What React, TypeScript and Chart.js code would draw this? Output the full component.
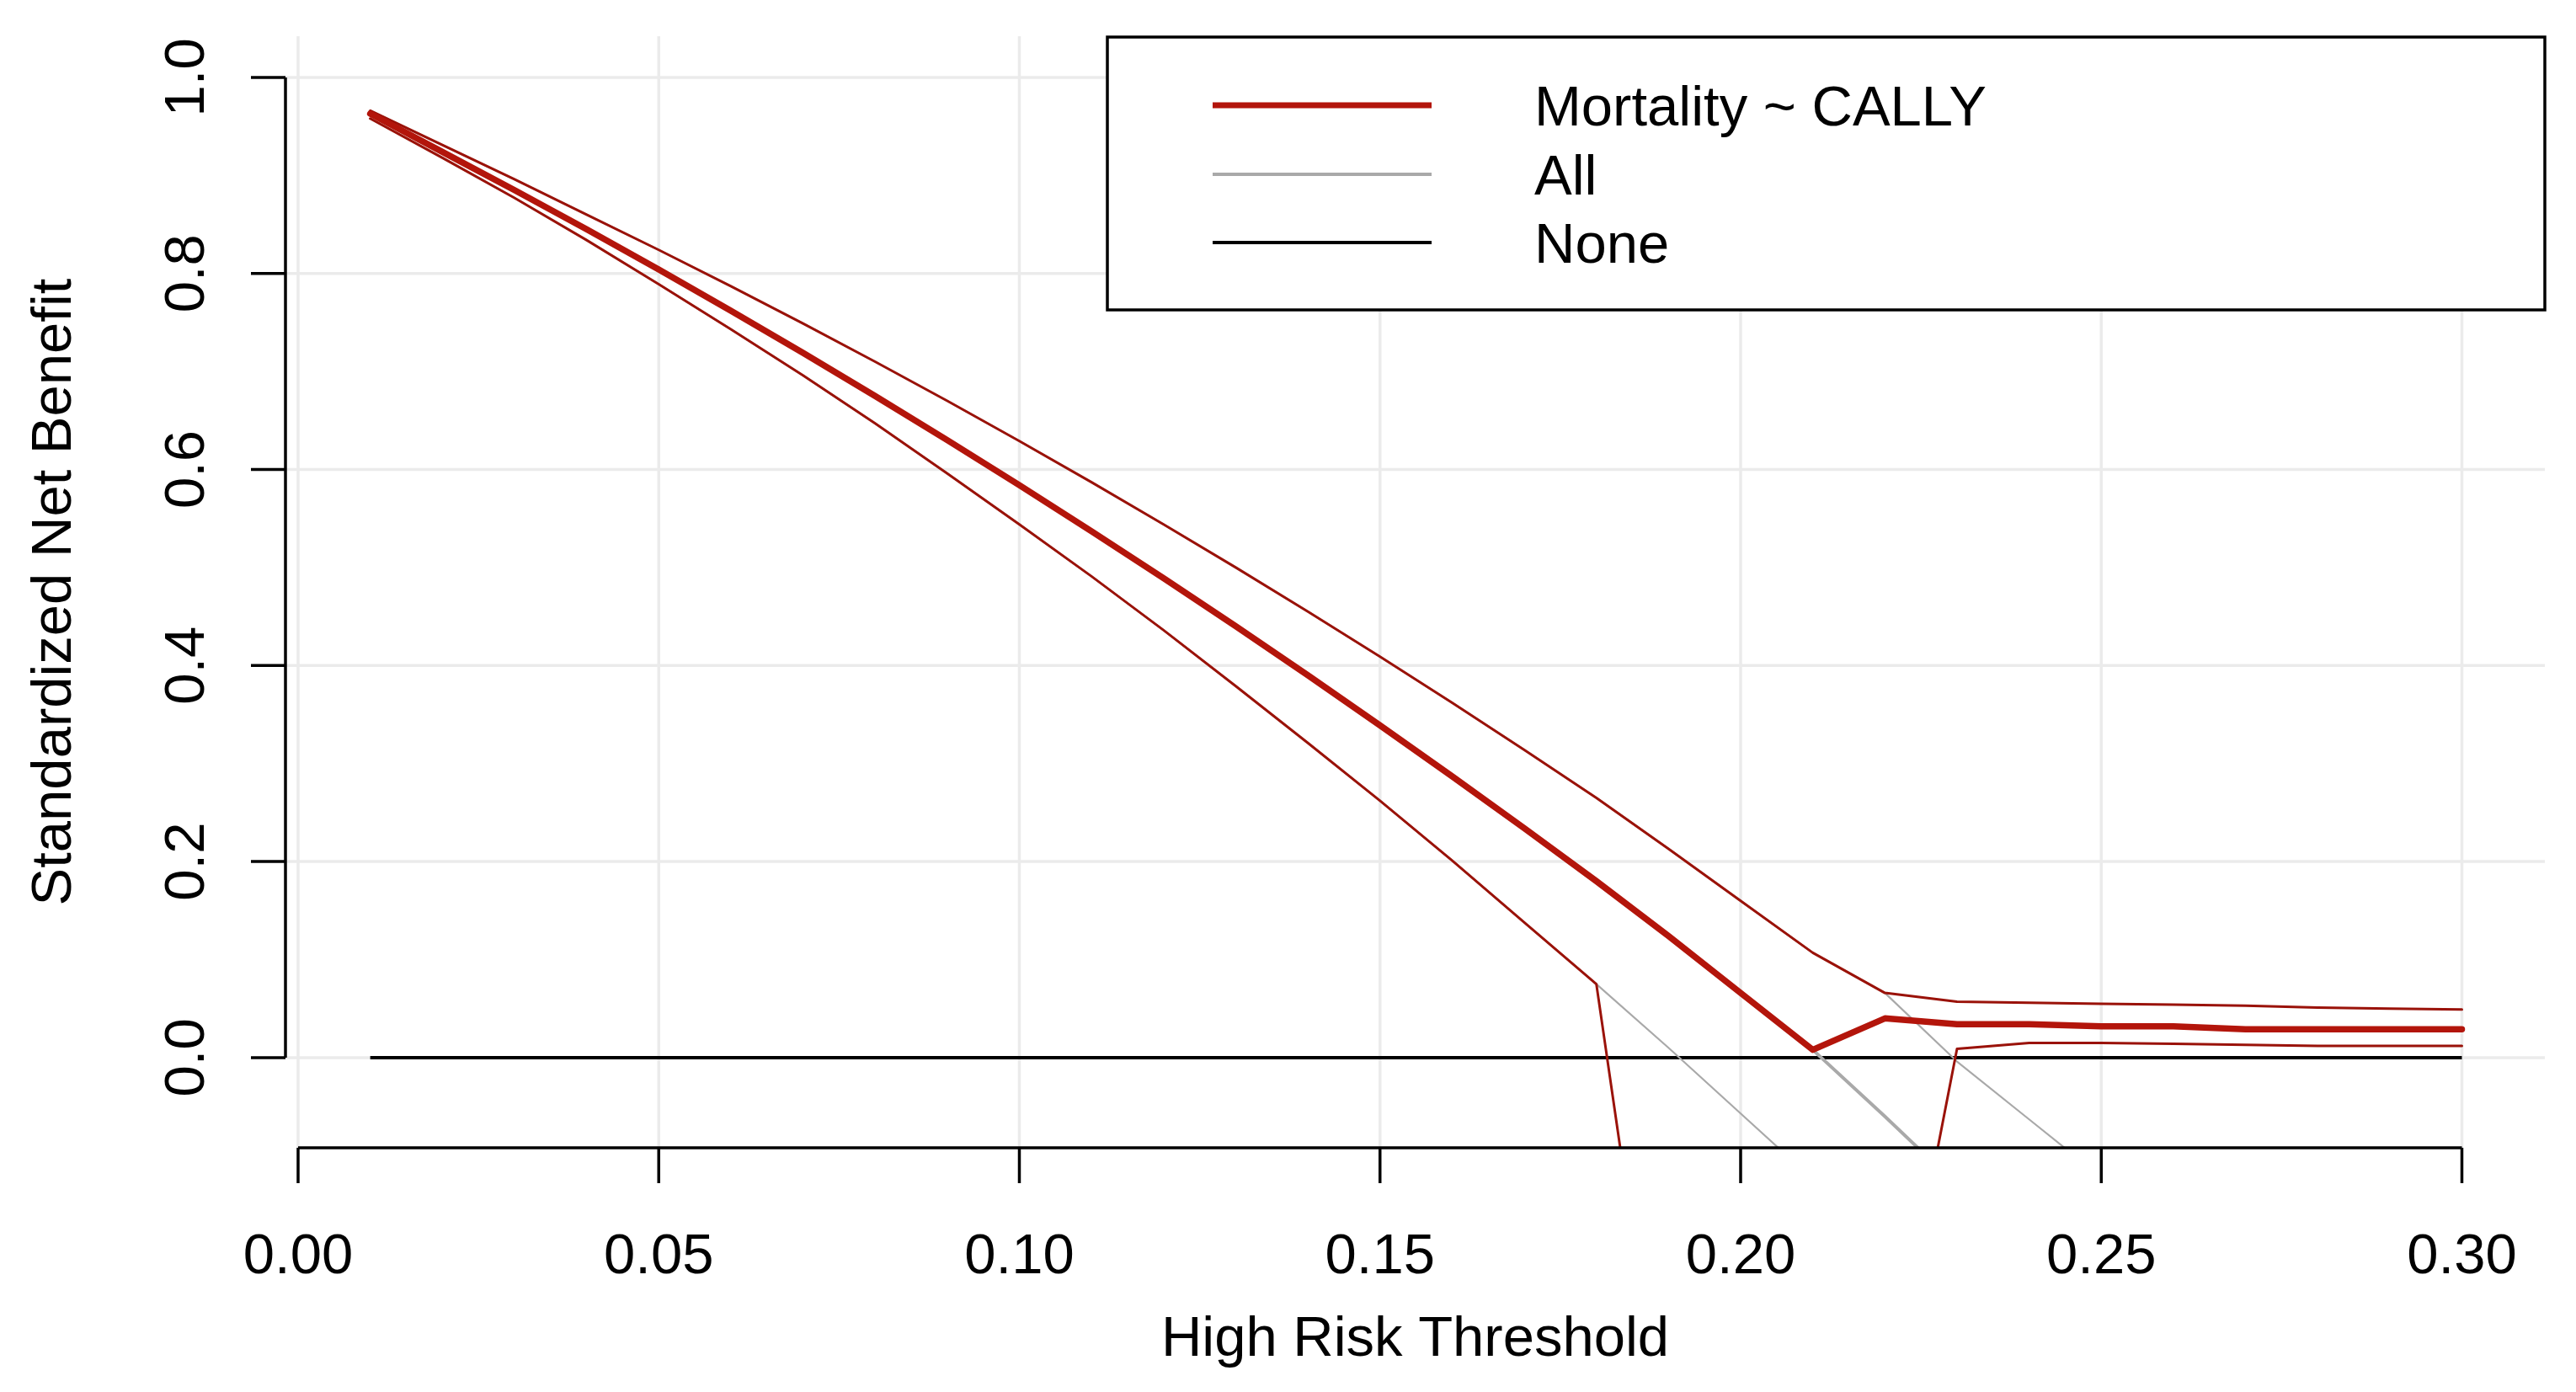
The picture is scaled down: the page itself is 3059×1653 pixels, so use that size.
import React, { useEffect, useRef } from "react";
import { Chart, registerables } from "chart.js";

Chart.register(...registerables);

const thresholds = [
  0.01, 0.02, 0.03, 0.04, 0.05, 0.06, 0.07, 0.08, 0.09, 0.1,
  0.11, 0.12, 0.13, 0.14, 0.15, 0.16, 0.17, 0.18, 0.19, 0.2,
  0.21, 0.22, 0.23, 0.24, 0.25, 0.26, 0.27, 0.28, 0.29, 0.3,
];

const modelNB = [
  0.963, 0.924, 0.885, 0.845, 0.804, 0.762, 0.719, 0.675, 0.63, 0.584,
  0.537, 0.489, 0.44, 0.39, 0.339, 0.287, 0.234, 0.18, 0.124, 0.066,
  0.008, 0.04, 0.034, 0.034, 0.032, 0.032, 0.029, 0.029, 0.029, 0.029,
];

const modelUpper = [
  0.966, 0.931, 0.896, 0.86, 0.824, 0.787, 0.749, 0.71, 0.67, 0.629,
  0.587, 0.544, 0.5, 0.455, 0.409, 0.362, 0.314, 0.265, 0.213, 0.16,
  0.107, 0.066, 0.057, 0.056, 0.055, 0.054, 0.053, 0.051, 0.05, 0.049,
];

const modelLower = [
  0.958, 0.918, 0.877, 0.834, 0.789, 0.743, 0.696, 0.647, 0.596, 0.544,
  0.491, 0.436, 0.379, 0.321, 0.262, 0.201, 0.138, 0.075, -0.43, -0.45,
  -0.43, -0.37, 0.009, 0.015, 0.015, 0.014, 0.013, 0.012, 0.012, 0.012,
];

const allNB = [
  0.963, 0.924, 0.885, 0.845, 0.804, 0.762, 0.719, 0.675, 0.63, 0.584,
  0.537, 0.489, 0.44, 0.39, 0.339, 0.287, 0.234, 0.18, 0.124, 0.066,
  0.008, -0.06, -0.13, null, null, null, null, null, null, null,
];

const allUpper = [
  0.966, 0.931, 0.896, 0.86, 0.824, 0.787, 0.749, 0.71, 0.67, 0.629,
  0.587, 0.544, 0.5, 0.455, 0.409, 0.362, 0.314, 0.265, 0.213, 0.16,
  0.107, 0.066, -0.004, -0.063, -0.122, null, null, null, null, null,
];

const allLower = [
  0.958, 0.918, 0.877, 0.834, 0.789, 0.743, 0.696, 0.647, 0.596, 0.544,
  0.491, 0.436, 0.379, 0.321, 0.262, 0.201, 0.138, 0.075, 0.01, -0.057,
  -0.124, null, null, null, null, null, null, null, null, null,
];

const noneNB = [
  0, 0, 0, 0, 0, 0, 0, 0, 0, 0,
  0, 0, 0, 0, 0, 0, 0, 0, 0, 0,
  0, 0, 0, 0, 0, 0, 0, 0, 0, 0,
];

const xTicks = [0, 0.05, 0.1, 0.15, 0.2, 0.25, 0.3];
const xTickLabels = ["0.00", "0.05", "0.10", "0.15", "0.20", "0.25", "0.30"];
const yTicks = [0, 0.2, 0.4, 0.6, 0.8, 1.0];
const yTickLabels = ["0.0", "0.2", "0.4", "0.6", "0.8", "1.0"];

const legendLabels = ["Mortality ~ CALLY", "All", "None"];
const xTitle = "High Risk Threshold";
const yTitle = "Standardized Net Benefit";

const RED = "#b3150b";
const RED_CI = "#9a1209";
const GRAY = "#a9a9a9";
const FONT = '67px "Liberation Sans", Arial, Helvetica, sans-serif';

function pts(values: (number | null)[]) {
  return thresholds.map((t, i) => ({ x: t, y: values[i] }));
}

const rStylePlugin = {
  id: "rStyle",
  beforeDatasetsDraw(chart: any) {
    const { ctx, chartArea, scales } = chart;
    const xs = scales.x;
    const ys = scales.y;
    ctx.save();
    ctx.strokeStyle = "#ebebeb";
    ctx.lineWidth = 3.5;
    xTicks.forEach((t) => {
      const px = xs.getPixelForValue(t);
      ctx.beginPath();
      ctx.moveTo(px, chartArea.top);
      ctx.lineTo(px, chartArea.bottom);
      ctx.stroke();
    });
    yTicks.forEach((v) => {
      const py = ys.getPixelForValue(v);
      ctx.beginPath();
      ctx.moveTo(chartArea.left, py);
      ctx.lineTo(chartArea.right, py);
      ctx.stroke();
    });
    ctx.restore();
  },
  afterDatasetsDraw(chart: any) {
    const { ctx, chartArea, scales } = chart;
    const xs = scales.x;
    const ys = scales.y;
    ctx.save();
    ctx.strokeStyle = "#000";
    ctx.fillStyle = "#000";
    ctx.lineWidth = 3.5;
    ctx.lineCap = "butt";
    ctx.font = FONT;

    // x axis
    const xb = chartArea.bottom;
    ctx.beginPath();
    ctx.moveTo(xs.getPixelForValue(xTicks[0]), xb);
    ctx.lineTo(xs.getPixelForValue(xTicks[xTicks.length - 1]), xb);
    ctx.stroke();
    ctx.textAlign = "center";
    ctx.textBaseline = "alphabetic";
    xTicks.forEach((t, i) => {
      const px = xs.getPixelForValue(t);
      ctx.beginPath();
      ctx.moveTo(px, xb);
      ctx.lineTo(px, xb + 42);
      ctx.stroke();
      ctx.fillText(xTickLabels[i], px, xb + 149);
    });
    ctx.fillText(xTitle, (chartArea.left + chartArea.right) / 2, xb + 247);

    // y axis
    const yl = chartArea.left;
    ctx.beginPath();
    ctx.moveTo(yl, ys.getPixelForValue(yTicks[0]));
    ctx.lineTo(yl, ys.getPixelForValue(yTicks[yTicks.length - 1]));
    ctx.stroke();
    yTicks.forEach((v, i) => {
      const py = ys.getPixelForValue(v);
      ctx.beginPath();
      ctx.moveTo(yl, py);
      ctx.lineTo(yl - 41, py);
      ctx.stroke();
      ctx.save();
      ctx.translate(yl - 97, py);
      ctx.rotate(-Math.PI / 2);
      ctx.fillText(yTickLabels[i], 0, 0);
      ctx.restore();
    });
    ctx.save();
    ctx.translate(84, (chartArea.top + chartArea.bottom) / 2);
    ctx.rotate(-Math.PI / 2);
    ctx.fillText(yTitle, 0, 0);
    ctx.restore();

    // legend
    const bx = 1315, by = 44, bw = 3022 - 1315, bh = 368 - 44;
    ctx.fillStyle = "#fff";
    ctx.fillRect(bx, by, bw, bh);
    ctx.strokeStyle = "#000";
    ctx.lineWidth = 3.5;
    ctx.strokeRect(bx, by, bw, bh);
    const rows = [125, 207, 288];
    const cols = [RED, GRAY, "#000"];
    const widths = [7, 4, 4];
    ctx.textAlign = "left";
    rows.forEach((ry, i) => {
      ctx.strokeStyle = cols[i];
      ctx.lineWidth = widths[i];
      ctx.beginPath();
      ctx.moveTo(1440, ry);
      ctx.lineTo(1700, ry);
      ctx.stroke();
      ctx.fillStyle = "#000";
      ctx.fillText(legendLabels[i], 1822, ry + 24);
    });
    ctx.restore();
  },
};

export default function App() {
  const ref = useRef<HTMLCanvasElement | null>(null);

  useEffect(() => {
    if (!ref.current) return;
    const common = {
      pointRadius: 0,
      tension: 0,
      fill: false,
      borderCapStyle: "round" as const,
      borderJoinStyle: "round" as const,
      spanGaps: false,
    };
    const chart = new Chart(ref.current, {
      type: "line",
      data: {
        datasets: [
          { ...common, label: "Mortality ~ CALLY", data: pts(modelNB), borderColor: RED, borderWidth: 7.5, order: 1 },
          { ...common, label: "upper", data: pts(modelUpper), borderColor: RED_CI, borderWidth: 3, order: 2 },
          { ...common, label: "lower", data: pts(modelLower), borderColor: RED_CI, borderWidth: 3, order: 3 },
          { ...common, label: "All", data: pts(allNB), borderColor: GRAY, borderWidth: 4, order: 4 },
          { ...common, label: "All upper", data: pts(allUpper), borderColor: GRAY, borderWidth: 2.2, order: 5 },
          { ...common, label: "All lower", data: pts(allLower), borderColor: GRAY, borderWidth: 2.2, order: 6 },
          { ...common, label: "None", data: pts(noneNB), borderColor: "#000", borderWidth: 4, order: 7, borderCapStyle: "butt" as const },
        ],
      },
      options: {
        animation: false,
        responsive: false,
        events: [],
        layout: { padding: { left: 339, right: 37, top: 43, bottom: 290 } },
        plugins: { legend: { display: false }, tooltip: { enabled: false }, title: { display: false } },
        scales: {
          x: { type: "linear", display: false, min: -0.00175, max: 0.3115 },
          y: { type: "linear", display: false, min: -0.092, max: 1.042 },
        },
      },
      plugins: [rStylePlugin],
    });
    return () => chart.destroy();
  }, []);

  return (
    <div style={{ position: "fixed", left: 0, top: 0, width: 3059, height: 1653, background: "#fff" }}>
      <canvas ref={ref} width={3059} height={1653} style={{ width: 3059, height: 1653 }} />
    </div>
  );
}
